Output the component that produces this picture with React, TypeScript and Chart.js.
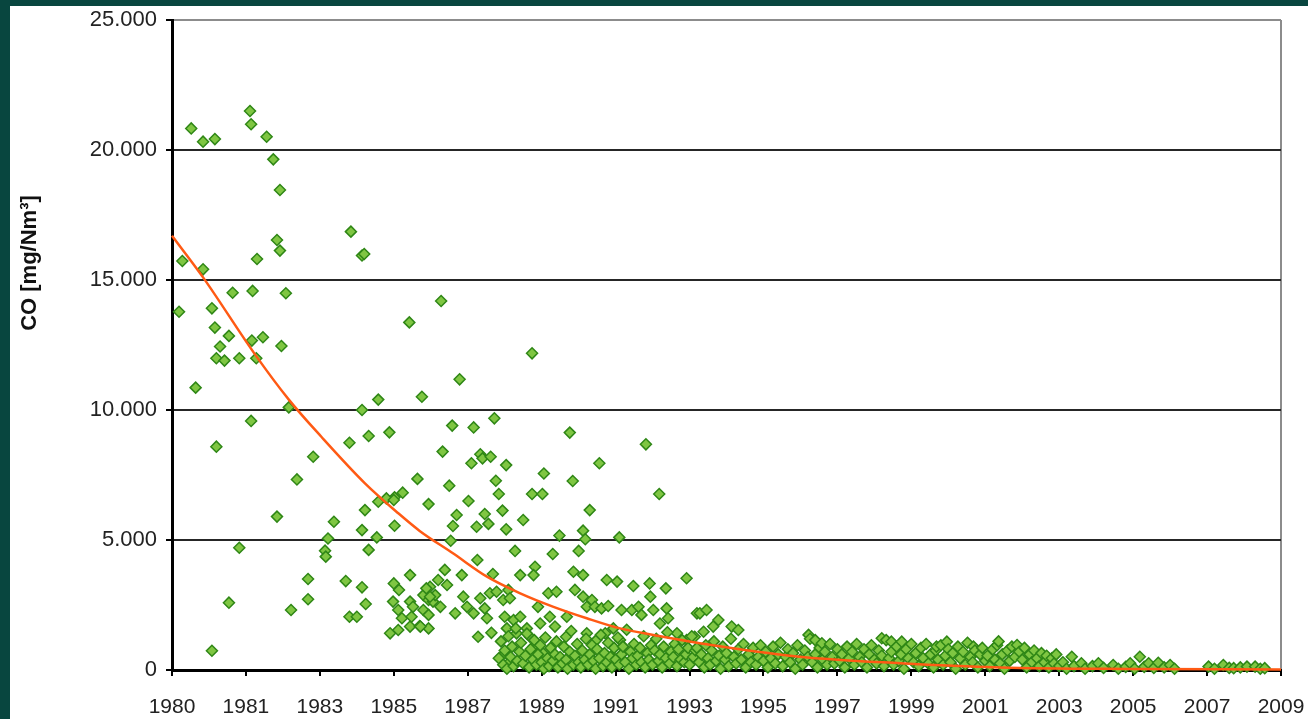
import React, { useEffect, useRef } from "react";
import { Chart, registerables } from "chart.js";

Chart.register(...registerables);

// Axis tick labels (position index 0..15 along the x axis)
const xTickLabels = ["1980", "1981", "1983", "1985", "1987", "1989", "1991", "1993", "1995", "1997", "1999", "2001", "2003", "2005", "2007", "2009"];
const yTickLabels = ["0", "5.000", "10.000", "15.000", "20.000", "25.000"];

// Measurements [x position, CO mg/Nm³]
const earlyPeaks: [number, number][] = [
  [0.26, 20830], [0.42, 20320], [0.58, 20420], [1.055, 21500], [1.07, 20990], [1.28, 20510],
  [1.37, 19640], [1.46, 18460], [1.42, 16540], [1.46, 16130], [2.42, 16860], [2.57, 15940],
  [2.6, 16000], [0.14, 15730], [0.42, 15410], [1.15, 15810], [0.82, 14510], [1.09, 14580],
  [1.54, 14490], [0.095, 13780], [0.54, 13910], [0.58, 13170], [0.77, 12850], [0.65, 12440],
  [1.08, 12670], [1.23, 12800], [1.48, 12460], [0.6, 11990], [0.71, 11900], [0.91, 11990],
  [1.14, 11990], [3.21, 13370], [0.32, 10860], [2.79, 10400], [3.38, 10510], [3.64, 14190],
  [4.87, 12180], [3.89, 11180],
];

const earlyMid: [number, number][] = [
  [1.58, 10100], [2.57, 10000], [1.07, 9580], [0.6, 8590], [2.4, 8740], [2.66, 9000],
  [2.94, 9140], [1.91, 8200], [1.69, 7330], [3.32, 7350], [3.12, 6820], [3.01, 6640],
  [2.9, 6600], [2.79, 6470], [2.61, 6150], [1.42, 5900], [2.19, 5700], [3.01, 5550],
  [2.57, 5380], [2.11, 5060], [2.77, 5100], [0.91, 4700], [2.07, 4590], [2.08, 4360],
  [2.66, 4620], [1.84, 3500], [2.35, 3420], [2.57, 3180], [0.77, 2590], [1.84, 2720],
  [1.61, 2310], [2.62, 2540], [2.4, 2050], [2.5, 2050], [0.54, 740], [3.0, 6540],
];

const cluster1985: [number, number][] = [
  [2.95, 1410], [2.99, 2630], [3.0, 3330], [3.06, 2310], [3.06, 1540], [3.07, 3080],
  [3.11, 1990], [3.22, 3650], [3.22, 2630], [3.22, 1670], [3.24, 2050], [3.26, 2430],
  [3.35, 1690], [3.4, 2880], [3.4, 2310], [3.47, 2690], [3.47, 2120], [3.47, 1600],
  [3.49, 3200], [3.53, 2630], [3.56, 2880], [3.6, 3460], [3.63, 2430], [3.69, 3850],
  [3.72, 3270], [3.36, 1670], [3.44, 3140], [3.49, 2820],
];

const mid1987: [number, number][] = [
  [4.36, 9680], [3.79, 9400], [4.08, 9330], [5.38, 9130], [6.41, 8680], [3.66, 8400],
  [4.17, 8300], [4.2, 8140], [4.31, 8200], [4.05, 7950], [4.52, 7880], [5.78, 7950],
  [5.03, 7560], [5.42, 7270], [3.75, 7090], [4.38, 7280], [4.42, 6770], [4.87, 6770],
  [5.01, 6770], [6.59, 6770], [4.01, 6500], [3.47, 6380], [5.65, 6150], [3.85, 5960],
  [4.23, 6000], [4.47, 6130], [4.75, 5770], [3.8, 5540], [4.12, 5510], [4.28, 5620],
  [4.52, 5410], [5.56, 5360], [3.77, 4970], [5.24, 5170], [5.59, 5030], [6.05, 5100],
  [4.64, 4580], [5.15, 4460], [5.5, 4580], [4.13, 4230], [3.92, 3650], [4.34, 3690],
  [4.71, 3650], [4.91, 3970], [4.89, 3650], [5.43, 3780], [5.56, 3650], [5.88, 3460],
  [6.02, 3400], [6.24, 3230], [6.46, 3330], [6.68, 3140], [6.96, 3530],
];

const low1988: [number, number][] = [
  [3.94, 2820], [3.83, 2180], [3.99, 2430], [4.17, 2760], [4.3, 2950], [4.39, 3010],
  [4.55, 3080], [4.48, 2690], [4.57, 2760], [4.23, 2370], [4.08, 2180], [4.26, 1990],
  [4.14, 1280], [4.32, 1430], [4.5, 2050], [4.62, 1920], [4.71, 2050], [4.53, 1600],
  [4.66, 1410], [4.8, 1600], [4.5, 640], [4.55, 260], [4.84, 1280], [4.95, 2430],
  [5.09, 2950], [5.2, 3010], [5.11, 2050], [5.18, 1670], [4.98, 1790], [4.89, 900],
  [5.02, 640], [5.34, 2050], [5.33, 1280], [5.45, 3080], [5.56, 2820], [5.68, 2690],
  [5.61, 2430], [5.72, 2430], [5.81, 2370], [5.9, 2460], [5.61, 1410], [5.74, 1150],
  [5.86, 1410], [5.97, 1600], [6.06, 1150], [6.1, 900], [5.95, 510], [5.81, 380],
  [6.08, 2310], [6.22, 2310], [6.31, 2430], [6.35, 2120], [6.47, 2820], [6.51, 2310],
  [6.6, 1790], [6.69, 2370], [6.71, 1990], [6.83, 1410], [6.96, 1150], [7.07, 1280],
  [7.1, 2180], [7.14, 2180], [7.23, 2310], [7.39, 1920], [7.32, 1670], [7.19, 1470],
  [7.57, 1670], [7.66, 1540],
];

const band1989: [number, number][] = [
  [4.42, 450], [4.45, 1100], [4.48, 200], [4.5, 750], [4.53, 50], [4.55, 1300], [4.58, 500],
  [4.6, 900], [4.62, 150], [4.65, 1600], [4.67, 350], [4.7, 700], [4.72, 1050], [4.75, 250],
  [4.78, 550], [4.8, 1400], [4.83, 100], [4.85, 800], [4.88, 400], [4.9, 1150], [4.93, 200],
  [4.95, 600], [4.98, 950], [5.0, 300], [5.03, 50], [5.05, 1250], [5.08, 450], [5.1, 150],
  [5.12, 850], [5.15, 350], [5.18, 600], [5.2, 1100], [5.22, 100], [5.25, 500], [5.28, 250],
  [5.3, 900], [5.33, 400], [5.35, 50], [5.38, 700], [5.4, 1500], [5.43, 200], [5.45, 550],
  [5.48, 1000], [5.5, 300], [5.53, 100], [5.55, 750], [5.58, 400], [5.6, 1200], [5.63, 200],
  [5.65, 600], [5.68, 950], [5.7, 350], [5.73, 50], [5.75, 800], [5.78, 450], [5.8, 1350],
  [5.83, 150], [5.85, 650], [5.88, 300], [5.9, 1050], [5.93, 500], [5.95, 100], [5.98, 850],
  [6.0, 400], [6.03, 1250], [6.05, 200], [6.08, 600], [6.1, 900], [6.13, 300], [6.15, 1550],
  [6.18, 50], [6.2, 700], [6.23, 450], [6.25, 1000], [6.28, 200], [6.3, 550], [6.33, 850],
  [6.35, 300], [6.38, 1300], [6.4, 100], [6.43, 650], [6.45, 400], [6.48, 950], [6.5, 200],
  [6.53, 750], [6.55, 1200], [6.58, 350], [6.6, 600], [6.63, 100], [6.65, 900], [6.68, 450],
  [6.7, 1450], [6.73, 250], [6.75, 700], [6.78, 500], [6.8, 1000], [6.83, 150], [6.85, 800],
  [6.88, 400], [6.9, 1150], [6.93, 300], [6.95, 600], [6.98, 850], [7.0, 200], [7.03, 1300],
  [7.05, 500], [7.08, 750],
];

const band1995: [number, number][] = [
  [7.1, 850], [7.13, 300], [7.16, 600], [7.2, 100], [7.22, 950], [7.25, 450], [7.28, 200],
  [7.3, 750], [7.33, 1100], [7.36, 350], [7.4, 550], [7.42, 50], [7.45, 900], [7.48, 400],
  [7.5, 650], [7.53, 150], [7.56, 1200], [7.6, 500], [7.63, 250], [7.66, 800], [7.7, 400],
  [7.73, 1000], [7.76, 100], [7.8, 600], [7.83, 300], [7.86, 850], [7.9, 200], [7.93, 500],
  [7.96, 950], [8.0, 350], [8.03, 700], [8.06, 100], [8.1, 450], [8.13, 900], [8.16, 250],
  [8.2, 600], [8.23, 1050], [8.26, 150], [8.3, 500], [8.33, 800], [8.36, 300], [8.4, 650],
  [8.43, 50], [8.46, 950], [8.5, 400], [8.53, 200], [8.56, 750], [8.6, 500], [8.61, 1350],
  [8.63, 1200], [8.66, 300], [8.7, 600], [8.7, 1150], [8.73, 100], [8.76, 850], [8.79, 1030],
  [8.8, 400], [8.83, 700], [8.86, 200], [8.9, 1000], [8.93, 500], [8.96, 250], [9.0, 800],
  [9.03, 350], [9.06, 600], [9.1, 100], [9.13, 900], [9.16, 450], [9.2, 700], [9.23, 200],
  [9.26, 1000], [9.3, 500], [9.33, 300], [9.36, 800], [9.4, 100], [9.43, 600], [9.46, 950],
  [9.5, 400], [9.53, 250], [9.56, 750], [9.6, 1220], [9.6, 550], [9.63, 150], [9.66, 1150],
  [9.7, 450], [9.73, 1090], [9.73, 700], [9.76, 200], [9.8, 900], [9.83, 350], [9.86, 600],
  [9.87, 1090], [9.9, 50], [9.93, 800], [9.96, 450], [10.0, 1000], [10.03, 300], [10.06, 650],
  [10.1, 150], [10.13, 850], [10.16, 450], [10.2, 1000], [10.23, 250], [10.26, 600], [10.3, 100],
  [10.33, 750], [10.34, 900], [10.36, 400], [10.4, 950], [10.43, 200], [10.46, 550], [10.48, 1090],
  [10.5, 800], [10.53, 300], [10.56, 650], [10.6, 50], [10.63, 900], [10.66, 450], [10.7, 700],
  [10.73, 200], [10.76, 1050], [10.8, 500], [10.83, 300], [10.84, 900], [10.86, 750], [10.9, 100],
  [10.93, 600], [10.96, 850], [11.0, 350], [11.03, 550], [11.06, 150], [11.1, 800], [11.13, 400],
  [11.16, 950], [11.18, 1100], [11.2, 250], [11.23, 600], [11.26, 50], [11.3, 750], [11.33, 350],
  [11.36, 900], [11.4, 500], [11.43, 960], [11.46, 700], [11.5, 400], [11.53, 850], [11.56, 100],
  [11.6, 600], [11.63, 300], [11.66, 750], [11.7, 450], [11.73, 150], [11.76, 650], [11.8, 300],
  [11.83, 550], [11.86, 100], [11.9, 450], [11.93, 250], [11.96, 600], [12.0, 150],
];

const band2005: [number, number][] = [
  [12.05, 300], [12.1, 50], [12.17, 510], [12.2, 150], [12.3, 260], [12.35, 50], [12.45, 150],
  [12.53, 260], [12.6, 80], [12.73, 190], [12.8, 50], [12.9, 120], [12.96, 260], [13.02, 50],
  [13.09, 510], [13.15, 120], [13.21, 260], [13.28, 80], [13.34, 280], [13.42, 100], [13.5, 190],
  [13.56, 50], [14.02, 130], [14.1, 50], [14.22, 190], [14.3, 80], [14.36, 70], [14.45, 100],
  [14.54, 130], [14.65, 130], [14.72, 50], [14.78, 70],
];

// Trend line
const trendX = [0, 0.42, 1.12, 1.58, 2.02, 2.61, 3.06, 3.35, 3.8, 4.26, 4.71, 5.16, 5.61, 6.06, 6.51, 7.14, 8.49, 9.85, 11.2, 13, 15];
const trendY = [16700, 15100, 12150, 10400, 8970, 7180, 6030, 5350, 4490, 3590, 2950, 2430, 1990, 1600, 1350, 1030, 510, 260, 100, 40, 20];

const FONT = "'Liberation Sans', Arial, sans-serif";

const yTitlePlugin = {
  id: "yTitle",
  afterDraw(chart: any) {
    const ctx = chart.ctx;
    ctx.save();
    ctx.translate(20, 257);
    ctx.rotate(-Math.PI / 2);
    ctx.font = `bold 22px ${FONT}`;
    ctx.fillStyle = "#111";
    ctx.textAlign = "center";
    ctx.textBaseline = "middle";
    ctx.fillText("CO [mg/Nm³]", 0, 0);
    ctx.restore();
  },
};

export default function App() {
  const ref = useRef<HTMLCanvasElement | null>(null);

  useEffect(() => {
    if (!ref.current) return;
    const all = [...earlyPeaks, ...earlyMid, ...cluster1985, ...mid1987, ...low1988, ...band1989, ...band1995, ...band2005];
    const chart = new Chart(ref.current, {
      type: "scatter",
      data: {
        datasets: [
          {
            type: "line",
            label: "Trend",
            data: trendX.map((x, i) => ({ x, y: trendY[i] })),
            borderColor: "#ff5a14",
            borderWidth: 2.5,
            pointRadius: 0,
            cubicInterpolationMode: "monotone",
            fill: false,
            order: 0,
            clip: false,
          } as any,
          {
            label: "CO",
            data: all.map(([x, y]) => ({ x, y })),
            pointStyle: "rectRot",
            pointRadius: 5.5,
            pointBackgroundColor: "#7fc642",
            pointBorderColor: "#2f8716",
            pointBorderWidth: 1.5,
            order: 1,
            clip: false,
          } as any,
        ],
      },
      options: {
        animation: false,
        responsive: false,
        maintainAspectRatio: false,
        events: [],
        layout: { padding: { left: 0, right: 27, top: 14, bottom: 0 } },
        plugins: { legend: { display: false }, tooltip: { enabled: false } },
        scales: {
          x: {
            type: "linear",
            min: 0,
            max: 15,
            afterFit: (s: any) => {
              s.height = 49;
              s.paddingLeft = 0;
              s.paddingRight = 0;
            },
            ticks: {
              stepSize: 1,
              autoSkip: false,
              maxRotation: 0,
              padding: 19,
              color: "#222",
              font: { family: FONT, size: 21 },
              callback: (v: any) => xTickLabels[Math.round(v)] ?? "",
            },
            grid: {
              drawOnChartArea: true,
              color: (c: any) => (c.tick && c.tick.value === 15 ? "#8c8c8c" : "rgba(0,0,0,0)"),
              lineWidth: 2,
              tickColor: "#000",
              tickWidth: 2,
              tickLength: 6,
            },
            border: { color: "#000", width: 3 },
          },
          y: {
            min: 0,
            max: 25000,
            afterFit: (s: any) => {
              s.width = 162;
              s.paddingTop = 0;
              s.paddingBottom = 0;
            },
            ticks: {
              stepSize: 5000,
              padding: 9,
              color: "#222",
              font: { family: FONT, size: 22 },
              callback: (v: any) => yTickLabels[Math.round(v / 5000)] ?? "",
            },
            grid: {
              color: (c: any) => (c.tick && c.tick.value === 25000 ? "#8c8c8c" : "#262626"),
              lineWidth: 2,
              tickColor: "#000",
              tickWidth: 2,
              tickLength: 6,
            },
            border: { color: "#000", width: 3 },
          },
        },
      },
      plugins: [yTitlePlugin],
    });
    return () => chart.destroy();
  }, []);

  return (
    <div style={{ position: "fixed", left: 0, top: 0, width: 1308, height: 719, background: "#08463f", overflow: "hidden" }}>
      <div style={{ position: "absolute", left: 10, top: 6, width: 1298, height: 713, background: "#ffffff" }}>
        <canvas ref={ref} width={1298} height={713} style={{ display: "block", width: 1298, height: 713 }} />
      </div>
    </div>
  );
}
